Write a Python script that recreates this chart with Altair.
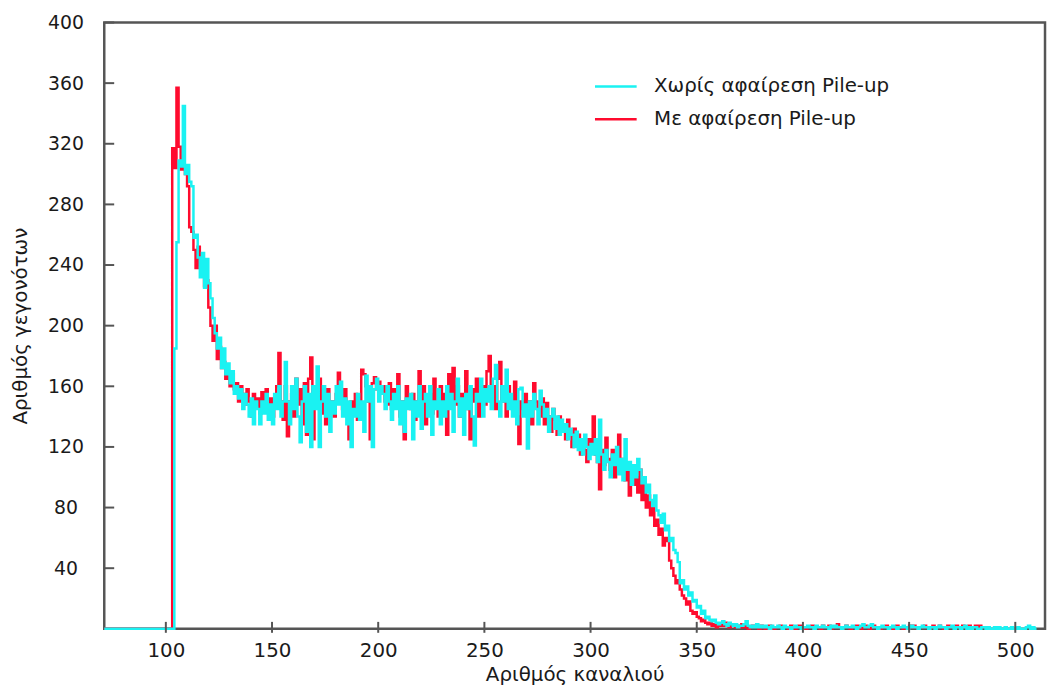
import altair as alt
import pandas as pd

CYAN_NAME = "Χωρίς αφαίρεση Pile-up"
RED_NAME = "Με αφαίρεση Pile-up"
CYAN_COLOR = "#1AF2F2"
RED_COLOR = "#FF0B2E"
FIRST_CHANNEL = 71

# counts per channel, starting at channel 71 (red: 71..485)
red_counts = [
    0, 0, 0, 0, 0, 0, 0, 0, 0, 0,            # 71-80
    0, 0, 0, 0, 0, 0, 0, 0, 0, 0,            # 81-90
    0, 0, 0, 0, 0, 0, 0, 0, 0, 0,            # 91-100
    0, 0, 317, 304, 357, 318, 303, 305, 300, 292,   # 101-110
    265, 262, 250, 238, 252, 240, 236, 226, 230, 212,  # 111-120
    200, 190, 200, 178, 186, 172, 176, 165, 170, 160,  # 121-130
    168, 158, 162, 150, 160, 155, 148, 158, 150, 140,  # 131-140
    155, 148, 152, 142, 156, 150, 158, 146, 152, 140,  # 141-150
    148, 160, 182, 150, 138, 160, 127, 150, 155, 140,  # 151-160
    165, 148, 158, 135, 162, 128, 165, 179, 125, 160,  # 161-170
    150, 165, 142, 155, 135, 158, 145, 150, 140, 155,  # 171-180
    169, 150, 145, 158, 140, 125, 150, 142, 155, 138,  # 181-190
    150, 171, 168, 160, 150, 125, 162, 166, 158, 163,  # 191-200
    155, 160, 150, 148, 162, 145, 158, 150, 168, 140,  # 201-210
    150, 125, 160, 148, 145, 155, 138, 150, 170, 145,  # 211-220
    160, 135, 150, 155, 142, 165, 150, 140, 160, 148,  # 221-230
    155, 128, 168, 150, 172, 148, 160, 140, 155, 150,  # 231-240
    170, 145, 125, 158, 150, 165, 140, 155, 160, 148,  # 241-250
    170, 180, 150, 160, 145, 165, 176, 150, 155, 140,  # 251-260
    160, 150, 145, 163, 140, 122, 150, 145, 155, 140,  # 261-270
    150, 135, 162, 150, 145, 140, 152, 135, 149, 140,  # 271-280
    130, 145, 138, 128, 140, 132, 134, 125, 138, 128,  # 281-290
    120, 132, 122, 128, 115, 125, 118, 110, 125, 118,  # 291-300
    140, 115, 110, 92, 118, 108, 126, 112, 105, 118,   # 301-310
    100, 110, 128, 105, 112, 98, 108, 88, 102, 95,     # 311-320
    100, 90, 105, 85, 95, 80, 88, 75, 82, 68,          # 321-330
    72, 62, 66, 55, 60, 58, 45, 40, 35, 30,            # 331-340
    32, 26, 22, 20, 16, 18, 12, 10, 11, 8,             # 341-350
    7, 5, 6, 4, 3, 4, 2, 3, 1, 2,                      # 351-360
    3, 2, 4, 2, 1, 3, 2, 1, 2, 1,                      # 361-370
    3, 1, 2, 0, 1, 2, 1, 1, 0, 2,                      # 371-380
    1, 0, 1, 2, 1, 0, 1, 1, 2, 0,                      # 381-390
    1, 1, 0, 2, 1, 0, 1, 2, 1, 1,                      # 391-400
    0, 1, 1, 2, 0, 1, 1, 0, 2, 1,                      # 401-410
    1, 2, 0, 1, 1, 3, 1, 0, 1, 2,                      # 411-420
    1, 0, 1, 1, 2, 1, 0, 1, 2, 1,                      # 421-430
    0, 1, 2, 1, 1, 0, 1, 1, 2, 1,                      # 431-440
    1, 0, 1, 2, 1, 1, 0, 1, 1, 2,                      # 441-450
    1, 2, 1, 0, 1, 1, 2, 1, 0, 1,                      # 451-460
    2, 1, 1, 2, 1, 0, 1, 2, 1, 1,                      # 461-470
    1, 2, 1, 1, 2, 1, 1, 2, 1, 1,                      # 471-480
    2, 1, 2, 1, 1,                                     # 481-485
]

# counts per channel, starting at channel 71 (cyan: 71..510)
cyan_counts = [
    0, 0, 0, 0, 0, 0, 0, 0, 0, 0,            # 71-80
    0, 0, 0, 0, 0, 0, 0, 0, 0, 0,            # 81-90
    0, 0, 0, 0, 0, 0, 0, 0, 0, 0,            # 91-100
    0, 0, 0, 185, 255, 309, 305, 345, 300, 306,        # 101-110
    295, 292, 258, 260, 245, 232, 248, 225, 244, 228,  # 111-120
    218, 205, 195, 185, 192, 172, 185, 168, 175, 162,  # 121-130
    170, 155, 160, 152, 158, 145, 155, 148, 140, 152,  # 131-140
    135, 150, 145, 135, 150, 142, 155, 138, 148, 135,  # 141-150
    155, 145, 160, 140, 150, 176, 150, 135, 160, 145,  # 151-160
    165, 140, 123, 150, 160, 130, 155, 120, 160, 145,  # 161-170
    173, 120, 150, 160, 140, 155, 130, 150, 142, 160,  # 171-180
    148, 163, 140, 152, 135, 150, 120, 145, 140, 155,  # 181-190
    138, 150, 130, 167, 150, 160, 120, 158, 165, 150,  # 191-200
    160, 155, 145, 160, 150, 138, 155, 145, 160, 135,  # 201-210
    150, 130, 152, 145, 155, 125, 150, 140, 160, 132,  # 211-220
    150, 155, 140, 160, 128, 150, 145, 158, 135, 150,  # 221-230
    140, 160, 145, 155, 130, 150, 165, 140, 152, 128,  # 231-240
    155, 145, 160, 140, 121, 155, 150, 165, 140, 158,  # 241-250
    150, 160, 145, 165, 174, 150, 140, 160, 150, 171,  # 251-260
    145, 155, 140, 150, 135, 158, 159, 140, 148, 119,  # 261-270
    150, 140, 155, 145, 135, 157, 148, 140, 145, 130,  # 271-280
    140, 145, 132, 140, 128, 138, 130, 135, 125, 132,  # 281-290
    128, 120, 130, 118, 125, 115, 128, 120, 112, 122,  # 291-300
    115, 125, 110, 138, 115, 105, 118, 110, 100, 115,  # 301-310
    108, 120, 102, 112, 98, 125, 105, 110, 95, 108,    # 311-320
    100, 112, 105, 96, 100, 90, 95, 85, 81, 88,        # 321-330
    78, 75, 70, 76, 65, 68, 58, 60, 52, 50,            # 331-340
    44, 30, 32, 26, 28, 22, 24, 18, 19, 14,            # 341-350
    15, 10, 12, 7, 8, 6, 5, 6, 4, 3,                   # 351-360
    4, 5, 3, 2, 4, 3, 2, 3, 1, 2,                      # 361-370
    2, 3, 5, 2, 1, 2, 1, 3, 1, 2,                      # 371-380
    1, 2, 1, 0, 2, 1, 1, 2, 1, 0,                      # 381-390
    2, 1, 1, 0, 1, 2, 1, 1, 0, 1,                      # 391-400
    1, 2, 1, 1, 0, 2, 1, 1, 2, 1,                      # 401-410
    1, 0, 2, 1, 2, 1, 1, 0, 1, 2,                      # 411-420
    1, 1, 2, 1, 0, 1, 2, 3, 1, 1,                      # 421-430
    2, 3, 1, 1, 0, 1, 2, 1, 1, 0,                      # 431-440
    1, 2, 1, 0, 1, 1, 2, 1, 0, 1,                      # 441-450
    2, 1, 1, 0, 1, 2, 1, 1, 0, 1,                      # 451-460
    1, 0, 1, 2, 1, 1, 0, 1, 1, 2,                      # 461-470
    0, 1, 1, 0, 1, 2, 0, 1, 0, 1,                      # 471-480
    1, 0, 0, 1, 1, 0, 1, 0, 0, 1,                      # 481-490
    0, 1, 0, 0, 1, 0, 0, 1, 0, 0,                      # 491-500
    1, 0, 0, 0, 1, 2, 0, 1, 0, 0,                      # 501-510
]

x_ticks = [100, 150, 200, 250, 300, 350, 400, 450, 500]
y_ticks = [40, 80, 120, 160, 200, 240, 280, 320, 360, 400]

assert len(red_counts) == 415, len(red_counts)
assert len(cyan_counts) == 440, len(cyan_counts)


def series_frame(counts, name):
    return pd.DataFrame({
        "channel": list(range(FIRST_CHANNEL, FIRST_CHANNEL + len(counts))),
        "count": counts,
        "series": name,
    })


red_df = series_frame(red_counts, RED_NAME)
cyan_df = series_frame(cyan_counts, CYAN_NAME)

FONT = "DejaVu Sans"
TEXT = "#1a1a1a"
FRAME = "#555555"

x_scale = alt.Scale(domain=[71, 514], nice=False, zero=False)
y_scale = alt.Scale(domain=[0, 400], nice=False, zero=True)

x_axis = alt.Axis(values=x_ticks, title="Αριθμός καναλιού", domain=False,
                  ticks=False, tickSize=0, grid=False, labelPadding=12,
                  labelFontSize=20, titleFontSize=20, titlePadding=4,
                  labelFont=FONT, titleFont=FONT, labelColor=TEXT,
                  titleColor=TEXT, titleFontWeight="normal")
y_axis = alt.Axis(values=y_ticks, title="Αριθμός γεγονότων", domain=False,
                  ticks=False, tickSize=0, grid=False, labelAlign="center",
                  labelPadding=39, labelFontSize=19, titleFontSize=20,
                  titlePadding=17, labelFont=FONT, titleFont=FONT,
                  labelColor=TEXT, titleColor=TEXT, titleFontWeight="normal")

color = alt.Color(
    "series:N",
    scale=alt.Scale(domain=[CYAN_NAME, RED_NAME], range=[CYAN_COLOR, RED_COLOR]),
    legend=alt.Legend(orient="none", legendX=493, legendY=42, title=None,
                      symbolType="stroke", symbolSize=1764,
                      symbolStrokeWidth=2.5, labelFont=FONT, labelFontSize=20,
                      labelColor=TEXT, rowPadding=-11, labelOffset=16,
                      labelLimit=500, padding=0),
)


def line_layer(df):
    return alt.Chart(df).mark_line(interpolate="step-after", strokeWidth=2.5).encode(
        x=alt.X("channel:Q", scale=x_scale, axis=x_axis),
        y=alt.Y("count:Q", scale=y_scale, axis=y_axis),
        color=color,
    )


ytick_df = pd.DataFrame({"count": y_ticks})
xtick_df = pd.DataFrame({"channel": x_ticks})

y_tick_marks = alt.Chart(ytick_df).mark_rule(color=FRAME, strokeWidth=2).encode(
    y=alt.Y("count:Q", scale=y_scale, axis=y_axis),
    x=alt.value(0),
    x2=alt.value(10),
)
x_tick_marks = alt.Chart(xtick_df).mark_rule(color=FRAME, strokeWidth=2).encode(
    x=alt.X("channel:Q", scale=x_scale, axis=x_axis),
    y=alt.value(604),
    y2=alt.value(615),
)

chart = alt.layer(
    line_layer(red_df),
    line_layer(cyan_df),
    y_tick_marks,
    x_tick_marks,
).properties(
    width=948,
    height=611,
    background="white",
    autosize=alt.AutoSizeParams(type="none"),
    padding={"left": 97, "top": 12, "right": 2, "bottom": 55},
).configure_view(
    stroke=FRAME,
    strokeWidth=2.5,
)

chart.save("out.html", embed_options={"renderer": "svg", "actions": False})
